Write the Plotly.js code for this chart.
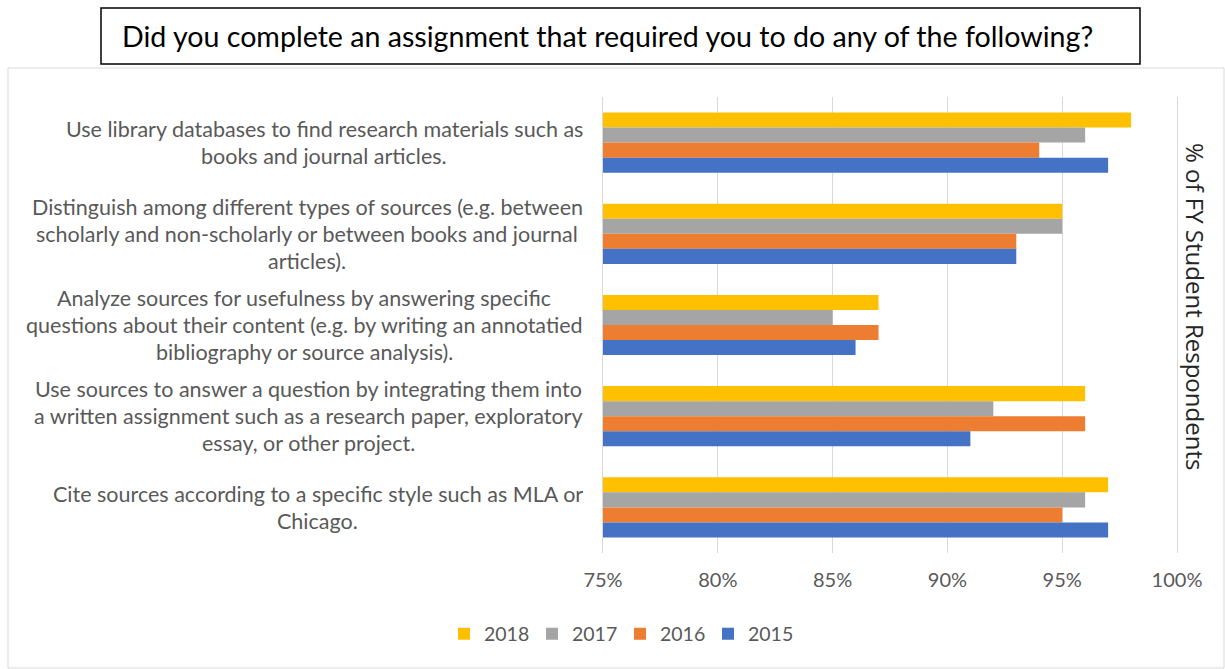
<!DOCTYPE html>
<html>
<head>
<meta charset="utf-8">
<script src="https://cdn.plot.ly/plotly-3.0.1.min.js"></script>
<style>html,body{margin:0;padding:0;background:#fff;}#chart{width:1225px;height:669px;}</style>
</head>
<body>
<div id="chart"></div>
<script>
const chartTitle = "Did you complete an assignment that required you to do any of the following?";
const axisTitle = "% of FY Student Respondents";
const categories = [
  "Use library databases to find research materials such as<br>books and journal articles.",
  "Distinguish among different types of sources (e.g. between<br>scholarly and non-scholarly or between books and journal<br>articles).",
  "Analyze sources for usefulness by answering specific<br>questions about their content (e.g. by writing an annotatied<br>bibliography or source analysis).",
  "Use sources to answer a question by integrating them into<br>a written assignment such as a research paper, exploratory<br>essay, or other project.",
  "Cite sources according to a specific style such as MLA or<br>Chicago."
];
const seriesNames = ["2018", "2017", "2016", "2015"];
const values2018 = [98, 95, 87, 96, 97];
const values2017 = [96, 95, 85, 92, 96];
const values2016 = [94, 93, 87, 96, 95];
const values2015 = [97, 93, 86, 91, 97];
const tickValues = [75, 80, 85, 90, 95, 100];
const tickLabels = ["75%", "80%", "85%", "90%", "95%", "100%"];

const colors = ["#FFC000", "#A5A5A5", "#ED7D31", "#4472C4"];
const seriesValues = [values2018, values2017, values2016, values2015];

const W = 1225, H = 669;
const M = {l: 603, r: 48, t: 97, b: 116};
const PW = W - M.l - M.r, PH = H - M.t - M.b;
const px2x = p => (p - M.l) / PW;
const py2y = p => (H - M.b - p) / PH;

const traces = seriesNames.map((n, i) => ({
  type: "bar", orientation: "h", name: n,
  y: categories, x: seriesValues[i],
  marker: {color: colors[i]},
  hoverinfo: "x+name"
}));

const labelFont = "Lato";
const labelSize = 21.5;
const canvas = document.createElement("canvas");
const ctx = canvas.getContext("2d");
ctx.font = labelSize + "px " + labelFont;

const annotations = [];
categories.forEach(cat => {
  const lines = cat.split("<br>");
  const maxW = Math.max(...lines.map(s => ctx.measureText(s).width));
  const cx = 583 - maxW / 2;
  lines.forEach((ln, j) => {
    annotations.push({
      text: ln, xref: "paper", yref: "y", x: px2x(cx), y: cat,
      xanchor: "center", yanchor: "middle", showarrow: false,
      yshift: ((lines.length - 1) / 2 - j) * 27,
      font: {family: labelFont, size: labelSize, color: "#595959"}
    });
  });
});

annotations.push({
  text: chartTitle, xref: "paper", yref: "paper",
  x: px2x(607), y: py2y(36), xanchor: "center", yanchor: "middle",
  showarrow: false,
  font: {family: "Lato", size: 28.6, color: "#000"}
});
annotations.push({
  text: axisTitle, xref: "paper", yref: "paper",
  x: px2x(1196), y: py2y(306), xanchor: "center", yanchor: "middle",
  showarrow: false, textangle: 90,
  font: {family: "Open Sans", size: 24, color: "#262626"}
});

const layout = {
  width: W, height: H,
  margin: M,
  paper_bgcolor: "#fff", plot_bgcolor: "#fff",
  barmode: "group", bargap: 0.34, bargroupgap: 0,
  showlegend: true,
  legend: {orientation: "h", x: px2x(620), xanchor: "center", y: py2y(634), yanchor: "middle",
           itemwidth: 30, entrywidth: 43, entrywidthmode: "pixels",
           font: {family: "Lato", size: 19.5, color: "#595959"}, traceorder: "normal"},
  xaxis: {range: [75, 100], tickvals: tickValues, ticktext: tickLabels,
          showgrid: true, gridcolor: "#d9d9d9", gridwidth: 1, zeroline: false,
          showline: false, ticks: "", ticklabelstandoff: 13,
          tickfont: {family: "Lato", size: 20, color: "#595959"}, fixedrange: true},
  yaxis: {type: "category", autorange: "reversed", showticklabels: false,
          showgrid: false, zeroline: false, showline: true, mirror: true,
          linecolor: "#d9d9d9", linewidth: 1, ticks: "", fixedrange: true},
  shapes: [
    {type: "rect", xref: "paper", yref: "paper",
     x0: px2x(8), x1: px2x(1224), y0: py2y(668), y1: py2y(68),
     line: {color: "#d9d9d9", width: 1}, layer: "below"},
    {type: "rect", xref: "paper", yref: "paper",
     x0: px2x(101), x1: px2x(1140), y0: py2y(64), y1: py2y(8),
     line: {color: "#000", width: 1.5}, fillcolor: "rgba(0,0,0,0)", layer: "below"}
  ],
  annotations: annotations
};

Plotly.newPlot("chart", traces, layout, {displayModeBar: false, staticPlot: true});
</script>
</body>
</html>
